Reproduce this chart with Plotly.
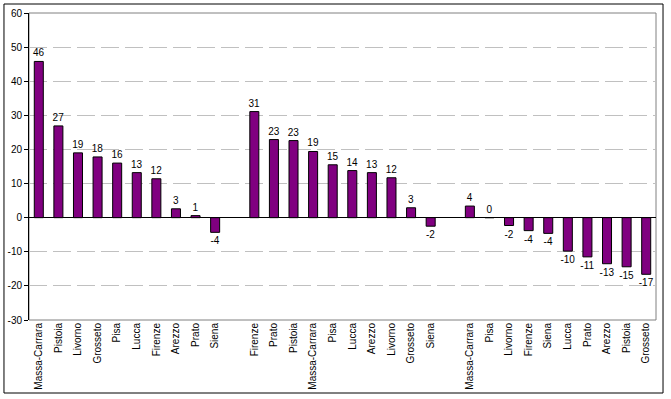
import plotly.graph_objects as go

group1_names = ["Massa-Carrara", "Pistoia", "Livorno", "Grosseto", "Pisa",
                "Lucca", "Firenze", "Arezzo", "Prato", "Siena"]
group1_values = [45.8, 26.9, 19.0, 17.8, 16.0, 13.2, 11.4, 2.6, 0.6, -4.3]
group1_labels = ["46", "27", "19", "18", "16", "13", "12", "3", "1", "-4"]

group2_names = ["Firenze", "Prato", "Pistoia", "Massa-Carrara", "Pisa",
                "Lucca", "Arezzo", "Livorno", "Grosseto", "Siena"]
group2_values = [31.1, 22.9, 22.6, 19.4, 15.5, 13.8, 13.2, 11.7, 2.9, -2.5]
group2_labels = ["31", "23", "23", "19", "15", "14", "13", "12", "3", "-2"]

group3_names = ["Massa-Carrara", "Pisa", "Livorno", "Firenze", "Siena",
                "Lucca", "Prato", "Arezzo", "Pistoia", "Grosseto"]
group3_values = [3.4, 0.0, -2.3, -3.8, -4.6, -9.8, -11.5, -13.5, -14.4, -16.6]
group3_labels = ["4", "0", "-2", "-4", "-4", "-10", "-11", "-13", "-15", "-17"]

y_ticks = [-30, -20, -10, 0, 10, 20, 30, 40, 50, 60]
y_tick_text = ["-30", "-20", "-10", "0", "10", "20", "30", "40", "50", "60"]

groups = [(group1_names, group1_values, group1_labels),
          (group2_names, group2_values, group2_labels),
          (group3_names, group3_values, group3_labels)]

xs, ys, texts, ticknames = [], [], [], []
for g, (names, vals, labs) in enumerate(groups):
    for i, (n, v, t) in enumerate(zip(names, vals, labs)):
        xs.append(g * 11 + i)
        ys.append(v)
        texts.append(t)
        ticknames.append(n)

font = dict(family="Liberation Sans, Arial", size=10, color="black")

fig = go.Figure()
fig.add_trace(go.Bar(
    x=xs, y=ys, text=texts, textposition="outside", textangle=0,
    constraintext="none", cliponaxis=False,
    textfont=font,
    marker=dict(color="#800080", line=dict(color="black", width=1)),
    width=0.46, showlegend=False, hoverinfo="skip",
))

fig.update_layout(
    width=671, height=399,
    margin=dict(l=29, r=15, t=13, b=79, autoexpand=False),
    paper_bgcolor="white", plot_bgcolor="white",
    font=font,
    xaxis=dict(range=[-0.5, 31.5], tickmode="array", tickvals=xs,
               ticktext=ticknames, tickangle=-90, showgrid=False,
               showline=False, zeroline=False, ticks="",
               tickfont=font, fixedrange=True, automargin=False),
    yaxis=dict(range=[-30, 60], tickmode="array", tickvals=y_ticks,
               ticktext=y_tick_text,
               showgrid=True, gridcolor="#c0c0c0", gridwidth=1,
               griddash="18px,6px",
               zeroline=True, zerolinecolor="black", zerolinewidth=1,
               showline=True, linecolor="black", linewidth=1,
               ticks="outside", ticklen=4, tickcolor="black",
               tickfont=font, fixedrange=True, automargin=False),
    shapes=[
        dict(type="rect", xref="paper", yref="paper", x0=0, x1=1, y0=0, y1=1,
             line=dict(color="#808080", width=1), layer="below"),
        dict(type="rect", xref="paper", yref="paper",
             x0=-0.0399, x1=1.0112, y0=-0.2378, y1=1.0293,
             line=dict(color="black", width=1)),
    ],
)

fig.write_html("out.html", config={"displayModeBar": False},
               post_script="document.body.style.margin='0px';document.body.style.overflow='hidden';")
